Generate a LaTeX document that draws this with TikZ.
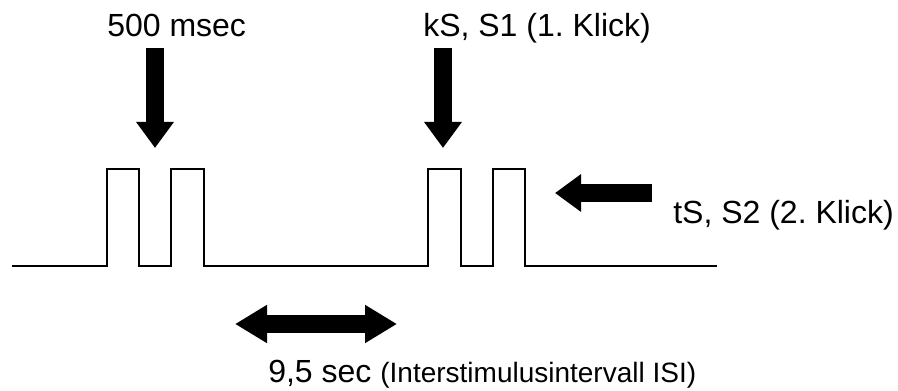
\documentclass[tikz,border=0pt]{standalone}
\usepackage{fontspec}
\setmainfont{Liberation Sans}
\usetikzlibrary{arrows.meta}
\frenchspacing
\tikzset{
  signal/.style={line width=1.4pt, line join=miter},
  fatarrow/.style={line width=13pt, -{Triangle[width=27pt,length=19.5pt]}},
  fatdouble/.style={line width=13.5pt, {Triangle[width=27pt,length=24pt]}-{Triangle[width=27pt,length=24pt]}},
  lbl/.style={inner sep=0pt, anchor=base west, font=\fontsize{24}{28}\selectfont},
}
\begin{document}
\begin{tikzpicture}[x=0.75pt,y=-0.75pt]
  \useasboundingbox (0,0) rectangle (898,391);

  % pulse train: two double clicks on a flat base line
  \draw[signal] (12,266) -- (107,266) -- (107,169) -- (139,169) -- (139,266)
    -- (171,266) -- (171,169) -- (204,169) -- (204,266)
    -- (428,266) -- (428,169) -- (461,169) -- (461,266)
    -- (493,266) -- (493,169) -- (525,169) -- (525,266) -- (717,266);

  % labels
  \node[lbl] (gap) at (107,37) {500 msec};
  \node[lbl] (ks) at (423,37) {kS, S1 (1. Klick)};
  \node[lbl] (ts) at (673,224) {tS, S2 (2. Klick)};
  \node[lbl] (isi) at (268,382) {9,5 sec {\fontsize{21}{25}\selectfont(Interstimulusintervall ISI)}};

  % pointer arrows
  \coordinate (gapA) at (155,48);
  \coordinate (gapB) at (155,148);
  \coordinate (ksA) at (443,48);
  \coordinate (ksB) at (443,148);
  \coordinate (tsA) at (652,193);
  \coordinate (tsB) at (555,193);
  \coordinate (isiA) at (235,324);
  \coordinate (isiB) at (397,324);
  \draw[fatarrow] (gapA) -- (gapB);
  \draw[fatarrow] (ksA) -- (ksB);
  \draw[fatarrow] (tsA) -- (tsB);
  \draw[fatdouble] (isiA) -- (isiB);
\end{tikzpicture}
\end{document}
